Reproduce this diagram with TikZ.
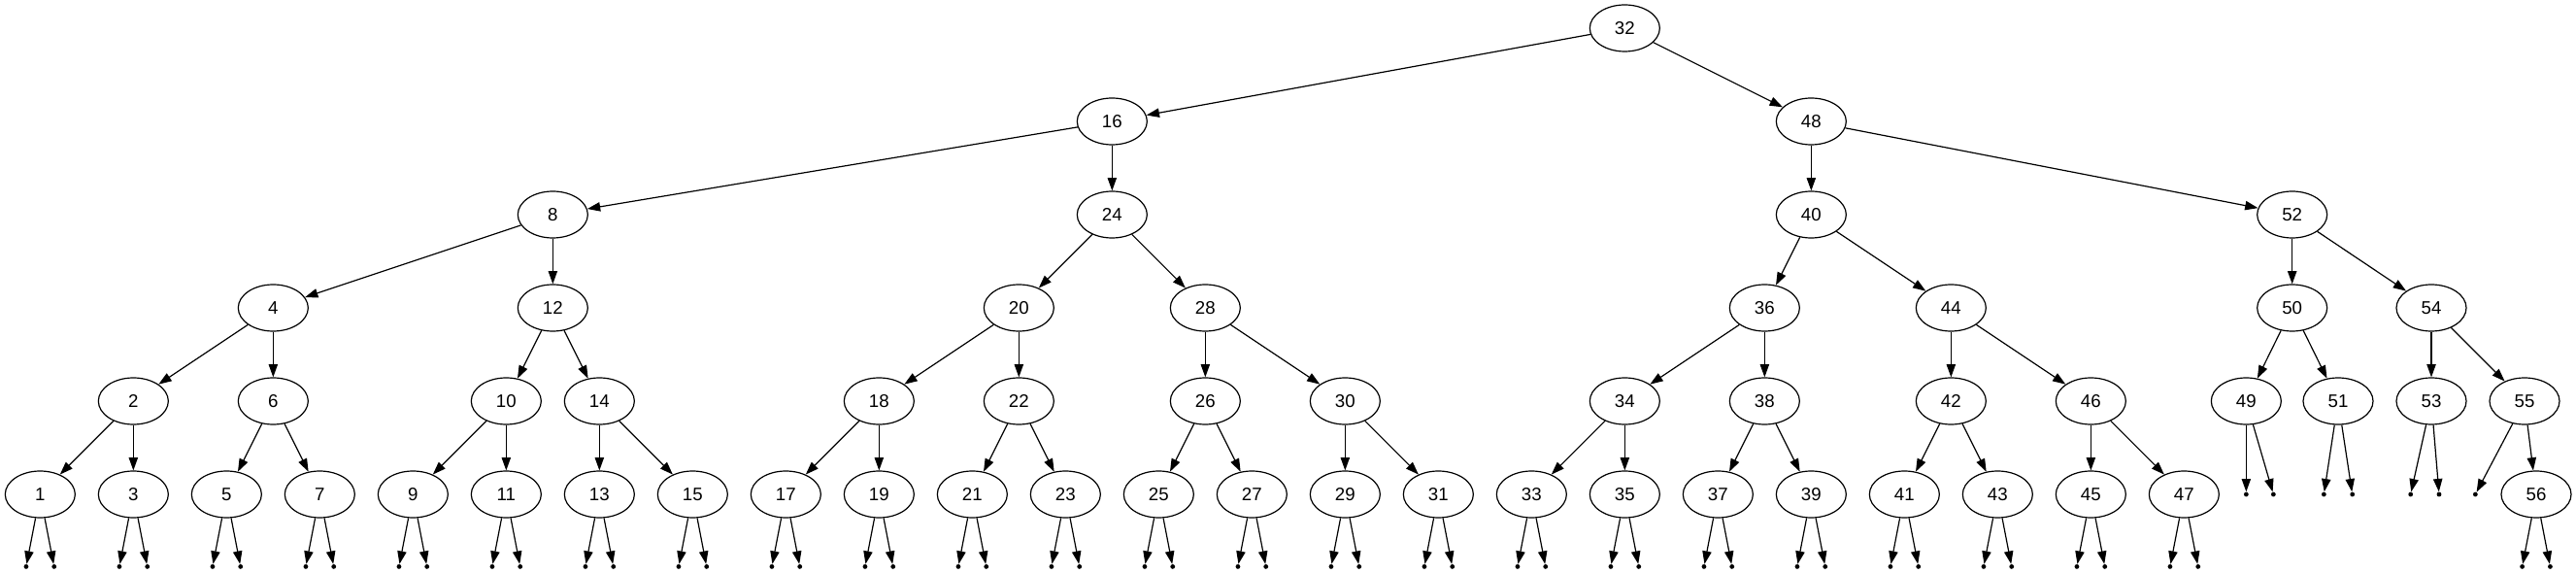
\documentclass[tikz,border=0pt]{standalone}
\usepackage{fontspec}
\setmainfont{Liberation Sans}
\usetikzlibrary{arrows.meta}
\usetikzlibrary{shapes.geometric}
\tikzstyle{key}=[ellipse,draw,line width=.9pt,minimum width=54pt,minimum height=36pt,inner sep=0pt,font=\fontsize{14}{16}\selectfont]
\tikzstyle{nil}=[circle,fill,inner sep=0pt,minimum size=3.6pt]
\tikzstyle{link}=[line width=.9pt,-{Triangle[length=10pt,width=7pt]}]

\begin{document}
\begin{tikzpicture}[x=1pt,y=-1pt]
	\useasboundingbox (0,0) rectangle (1989.75,443.25);
	% keys: name/x/level
	\foreach \n/\x/\l in {32/1255/0,
		16/859/1, 48/1399/1,
		8/427/2, 24/859/2, 40/1399/2, 52/1770.5/2,
		4/211/3, 12/427/3, 20/787/3, 28/931/3, 36/1363/3, 44/1507/3, 50/1770.5/3, 54/1878/3,
		2/103/4, 6/211/4, 10/391/4, 14/463/4, 18/679/4, 22/787/4, 26/931/4, 30/1039/4,
		34/1255/4, 38/1363/4, 42/1507/4, 46/1615/4, 49/1735/4, 51/1806/4, 53/1878/4, 55/1950/4,
		1/31/5, 3/103/5, 5/175/5, 7/247/5, 9/319/5, 11/391/5, 13/463/5, 15/535/5,
		17/607/5, 19/679/5, 21/751/5, 23/823/5, 25/895/5, 27/967/5, 29/1039/5, 31/1111/5,
		33/1183/5, 35/1255/5, 37/1327/5, 39/1399/5, 41/1471/5, 43/1543/5, 45/1615/5, 47/1687/5,
		56/1959/5}
		\node[key] (k\n) at (\x,{21.75+72*\l}) {\n};
	\foreach \a/\b in {32/16, 32/48, 16/8, 16/24, 48/40, 48/52,
		8/4, 8/12, 24/20, 24/28, 40/36, 40/44, 52/50, 52/54,
		4/2, 4/6, 12/10, 12/14, 20/18, 20/22, 28/26, 28/30,
		36/34, 36/38, 44/42, 44/46, 50/49, 50/51, 54/53, 54/55,
		2/1, 2/3, 6/5, 6/7, 10/9, 10/11, 14/13, 14/15, 18/17, 18/19, 22/21, 22/23,
		26/25, 26/27, 30/29, 30/31, 34/33, 34/35, 38/37, 38/39, 42/41, 42/43,
		46/45, 46/47, 55/56}
		\draw[link] (k\a) -- (k\b);
	% empty children
	\foreach \n/\x in {1/31, 3/103, 5/175, 7/247, 9/319, 11/391, 13/463, 15/535,
		17/607, 19/679, 21/751, 23/823, 25/895, 27/967, 29/1039, 31/1111,
		33/1183, 35/1255, 37/1327, 39/1399, 41/1471, 43/1543, 45/1615, 47/1687, 56/1959}{
		\node[nil] (p\n-l) at (\x-10.8,437.55) {};
		\node[nil] (p\n-r) at (\x+10.8,437.55) {};
		\draw[link] (k\n) -- (p\n-l);
		\draw[link] (k\n) -- (p\n-r);
	}
	\foreach \n/\x/\y in {49/1735/1756, 51/1795/1817, 53/1862/1884}{
		\node[nil] (p\n-l) at (\x,381.75) {};
		\node[nil] (p\n-r) at (\y,381.75) {};
		\draw[link] (k\n) -- (p\n-l);
		\draw[link] (k\n) -- (p\n-r);
	}
	\node[nil] (p55-l) at (1912,381.75) {};
	\draw[link] (k55) -- (p55-l);
\end{tikzpicture}
\end{document}
